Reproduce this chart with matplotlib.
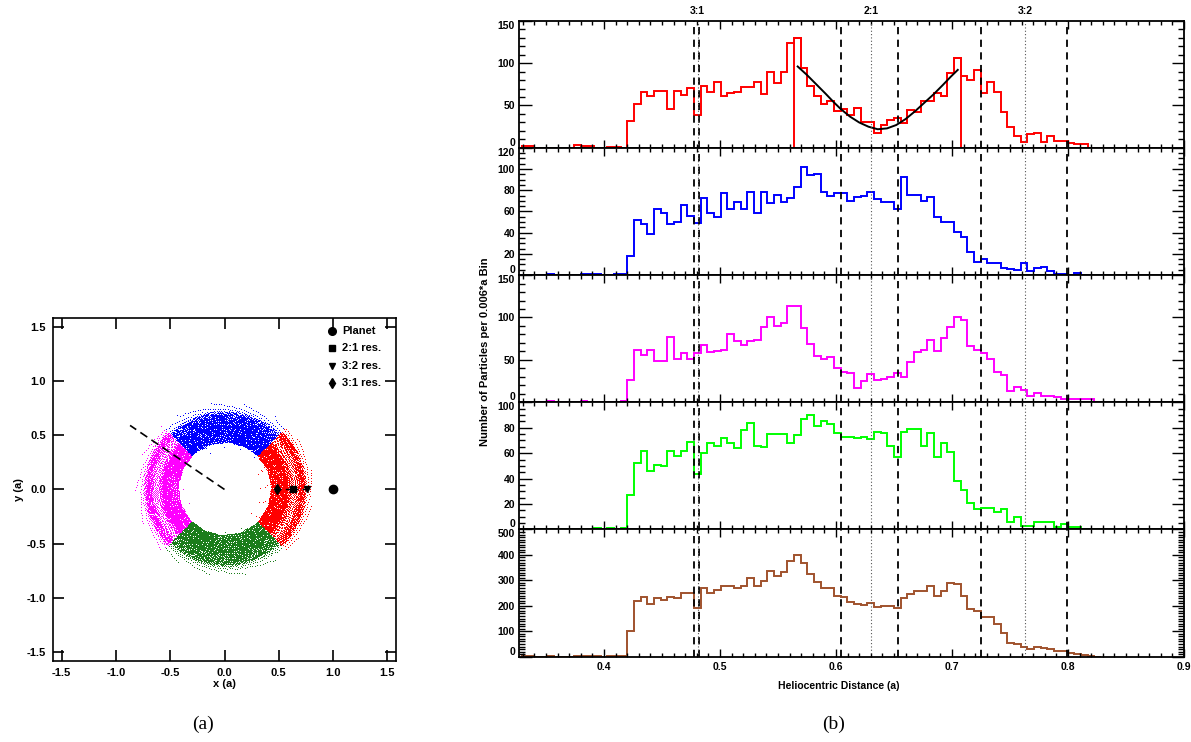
import numpy as np
import matplotlib
matplotlib.use("Agg")
import matplotlib.pyplot as plt
from matplotlib.ticker import MultipleLocator, FormatStrFormatter

plt.rcParams['font.family'] = ['Liberation Sans', 'DejaVu Sans']
plt.rcParams['axes.unicode_minus'] = False

# histogram bins in heliocentric distance (a); first bin starts at bin_start
bin_start = 0.3281
bin_width = 0.00575

# particle counts per bin, one list per quadrant plus the total
red_counts = [2, 2, 0, 0, 0, 0, 0, 0, 3, 2, 2, 0, 0, 1, 1, 0,
              32, 52, 66, 61, 67, 67, 46, 67, 62, 71,
              39, 73, 66, 78, 61, 65, 66, 72, 72, 78,
              63, 89, 77, 90, 124, 130, 94, 73, 61, 52,
              55, 43, 46, 39, 47, 31, 31, 18, 27, 33,
              35, 29, 45, 42, 55, 55, 65, 61, 88, 106,
              85, 80, 92, 65, 78, 66, 42, 25, 14, 7,
              16, 17, 7, 14, 8, 8, 6, 5, 5, 0, 0]
blue_counts = [0, 0, 0, 0, 1, 0, 0, 0, 0, 1, 1, 1, 0, 0, 1, 1,
               18, 52, 48, 39, 62, 59, 48, 50, 66, 56,
               49, 73, 59, 55, 77, 62, 69, 62, 78, 59,
               78, 68, 76, 69, 73, 83, 102, 94, 95, 78,
               75, 77, 77, 70, 74, 75, 78, 72, 69, 69,
               62, 93, 76, 76, 70, 74, 55, 50, 50, 41,
               36, 22, 12, 15, 11, 11, 7, 6, 5, 11,
               4, 7, 8, 4, 1, 1, 0, 2, 0, 0, 0]
magenta_counts = [0, 0, 0, 0, 1, 0, 0, 0, 0, 1, 0, 0, 0, 0, 0, 1,
                  26, 62, 56, 62, 49, 49, 77, 51, 58, 51,
                  58, 67, 59, 61, 62, 80, 72, 67, 72, 73,
                  89, 101, 90, 94, 113, 113, 88, 69, 55, 51,
                  54, 40, 36, 34, 17, 25, 33, 26, 28, 30,
                  34, 30, 47, 59, 62, 73, 60, 76, 89, 101,
                  97, 66, 62, 58, 51, 36, 32, 13, 18, 15,
                  7, 11, 8, 7, 6, 4, 4, 4, 4, 4, 0]
green_counts = [0, 0, 0, 0, 0, 0, 0, 0, 0, 0, 0, 1, 0, 1, 0, 1,
                27, 52, 62, 46, 51, 50, 62, 58, 62, 69,
                44, 60, 68, 66, 72, 68, 64, 78, 84, 66,
                65, 75, 75, 75, 68, 74, 87, 90, 81, 85,
                83, 76, 73, 73, 72, 73, 71, 77, 76, 66,
                57, 77, 79, 79, 66, 76, 57, 68, 61, 38,
                31, 21, 16, 17, 17, 14, 16, 6, 10, 3,
                3, 6, 6, 6, 2, 4, 2, 2, 0, 0, 0]
total_counts = [2, 2, 0, 0, 2, 0, 0, 0, 3, 4, 3, 2, 0, 2, 2, 3,
                101, 220, 233, 206, 229, 224, 236, 229, 250, 250,
                193, 272, 250, 262, 276, 276, 272, 279, 308, 276,
                296, 336, 318, 332, 378, 400, 367, 324, 292, 270,
                270, 237, 233, 216, 209, 204, 213, 196, 200, 200,
                190, 230, 246, 257, 257, 279, 240, 257, 288, 284,
                240, 187, 180, 157, 158, 128, 92, 53, 49, 40,
                29, 40, 33, 32, 21, 21, 15, 12, 8, 3, 0]

# sub-range of the red histogram used for the fit (bin indices) and the fit curve
fit_bins = (41, 66)
fit_x = [0.567, 0.575, 0.583, 0.591, 0.598, 0.604, 0.612, 0.620, 0.628, 0.636,
         0.644, 0.652, 0.660, 0.668, 0.676, 0.684, 0.692, 0.699, 0.705]
fit_y = [96, 86, 75, 64, 54, 46, 37, 30, 25, 22,
         23, 27, 34, 43, 53, 63, 74, 84, 92]

# resonances
res_labels = ['3:1', '2:1', '3:2']
res_pos = [0.4807, 0.63, 0.7631]
res_width_edges = [0.4778, 0.4819, 0.6041, 0.6532, 0.7247, 0.7989]
planet_a = 1.0

cut_line_x = [0.0, -0.87]
cut_line_y = [0.0, 0.59]

edges = bin_start + bin_width * np.arange(len(total_counts) + 1)


def ring_points(counts, angle0):
    # spread each bin's particles evenly over its 90 degree sector
    counts = np.asarray(counts, dtype=int)
    k = np.repeat(np.arange(len(counts)), counts)
    j = np.arange(1, len(k) + 1)
    u = (j * 0.7548776662466927) % 1.0
    v = (j * 0.5698402909980532) % 1.0
    r = edges[k] + bin_width * v
    th = np.radians(angle0 + 90.0 * u)
    return r * np.cos(th), r * np.sin(th)


fig = plt.figure(figsize=(11.91, 7.42), dpi=100)

# ---- (a) particle positions ----
ax = fig.add_axes([0.0445, 0.1092, 0.288, 0.4623])
sectors = [(red_counts, -45, '#ff0000'), (blue_counts, 45, '#0000ff'),
           (magenta_counts, 135, '#ff00ff'), (green_counts, 225, '#1b7d1b')]
for counts, a0, col in sectors:
    px, py = ring_points(counts, a0)
    ax.plot(px, py, ',', color=col)

ax.plot(cut_line_x, cut_line_y, color='k', lw=1.2, dashes=(5, 3))
ax.plot([res_pos[0], res_pos[2]], [0, 0], color='k', lw=1.0, dashes=(3, 3))
ax.plot(planet_a, 0, 'ko', ms=6)
ax.plot(res_pos[1], 0, 'ks', ms=5)
ax.plot(res_pos[2], 0, 'kv', ms=4.5)
ax.plot(res_pos[0], 0, 'kd', ms=5)

legend_rows = [('o', 5.5, 'Planet'), ('s', 4.5, '2:1 res.'),
               ('v', 4, '3:2 res.'), ('d', 5, '3:1 res.')]
for i, (m, ms, lab) in enumerate(legend_rows):
    yy = 0.963 - i * 0.051
    ax.plot(0.813, yy, marker=m, ms=ms, color='k', transform=ax.transAxes)
    ax.text(0.842, yy, lab, transform=ax.transAxes, va='center', ha='left',
            fontsize=8, fontweight='bold')

ax.set_xlim(-1.58, 1.58)
ax.set_ylim(-1.58, 1.58)
ax.xaxis.set_major_locator(MultipleLocator(0.5))
ax.yaxis.set_major_locator(MultipleLocator(0.5))
ax.xaxis.set_major_formatter(FormatStrFormatter('%.1f'))
ax.yaxis.set_major_formatter(FormatStrFormatter('%.1f'))
ax.tick_params(direction='in', top=True, right=True, length=8, width=1.2, pad=5)
for lab in ax.get_xticklabels() + ax.get_yticklabels():
    lab.set_fontsize(8)
    lab.set_fontweight('bold')
for s in ax.spines.values():
    s.set_linewidth(1.2)
ax.set_xlabel('x (a)', fontsize=8, fontweight='bold', labelpad=1)
ax.set_ylabel('y (a)', fontsize=8, fontweight='bold', labelpad=2)

fig.text(0.1704, 0.024, '(a)', family='Liberation Serif', fontsize=14,
         ha='center', va='center')

# ---- (b) radial histograms ----
panels = [(red_counts, '#ff0000', 150, 50, 10),
          (blue_counts, '#0000ff', 120, 20, 5),
          (magenta_counts, '#ff00ff', 150, 50, 10),
          (green_counts, '#00ff00', 100, 20, 5),
          (total_counts, '#a0522d', 500, 100, 10)]
p_left, p_width = 0.4360, 0.5581
p_h = 0.17143
p_bottom = 0.11496
axes_b = []
for i, (counts, col, ytop, major, minor) in enumerate(panels):
    bx = fig.add_axes([p_left, p_bottom + (4 - i) * p_h, p_width, p_h])
    axes_b.append(bx)
    bx.stairs(counts, edges, baseline=None, color=col, lw=1.4)
    if i == 0:
        lo, hi = fit_bins
        bx.stairs(counts[lo:hi], edges[lo:hi + 1], baseline=0, color=col, lw=1.4)
        bx.plot(fit_x, fit_y, color='k', lw=1.4)
    for xe in res_width_edges:
        bx.axvline(xe, color='k', lw=1.3, dashes=(4, 3))
    for xr in res_pos:
        bx.axvline(xr, color='#555555', lw=0.8, dashes=(1, 2))
    bx.set_xlim(0.327, 0.9)
    bx.set_ylim(0, ytop)
    bx.xaxis.set_major_locator(MultipleLocator(0.1))
    bx.xaxis.set_minor_locator(MultipleLocator(0.01))
    bx.set_yticks(np.arange(0, ytop + 1, major))
    bx.yaxis.set_minor_locator(MultipleLocator(minor))
    bx.yaxis.set_major_formatter(FormatStrFormatter('%d'))
    bx.tick_params(which='both', direction='in', top=True, right=True, width=1.0)
    bx.tick_params(which='major', axis='y', length=9, pad=3, labelsize=7.5)
    bx.tick_params(which='minor', axis='y', length=4)
    bx.tick_params(which='major', axis='x', length=6, labelsize=7.5)
    bx.tick_params(which='minor', axis='x', length=3)
    yt = bx.yaxis.get_major_ticks()
    for t in yt:
        t.label1.set_fontweight('bold')
    # keep the end labels inside their own panel
    yt[0].label1.set_va('bottom')
    yt[-1].label1.set_va('top')
    if i < 4:
        bx.tick_params(labelbottom=False)
    else:
        bx.xaxis.set_major_formatter(FormatStrFormatter('%.1f'))
        for t in bx.xaxis.get_major_ticks():
            t.label1.set_fontweight('bold')
    for s in bx.spines.values():
        s.set_linewidth(1.3)

for name, xr in zip(res_labels, res_pos):
    axes_b[0].text(xr, 1.035, name, transform=axes_b[0].get_xaxis_transform(),
                   ha='center', va='bottom', fontsize=7.5, fontweight='bold')

fig.text(0.7045, 0.0755, 'Heliocentric Distance (a)', ha='center', va='center',
         fontsize=7.5, fontweight='bold')
fig.text(0.4072, 0.526, 'Number of Particles per 0.006*a Bin', rotation=90,
         ha='center', va='center', fontsize=8, fontweight='bold')
fig.text(0.7003, 0.024, '(b)', family='Liberation Serif', fontsize=14,
         ha='center', va='center')

fig.savefig('out.png', dpi=100)
